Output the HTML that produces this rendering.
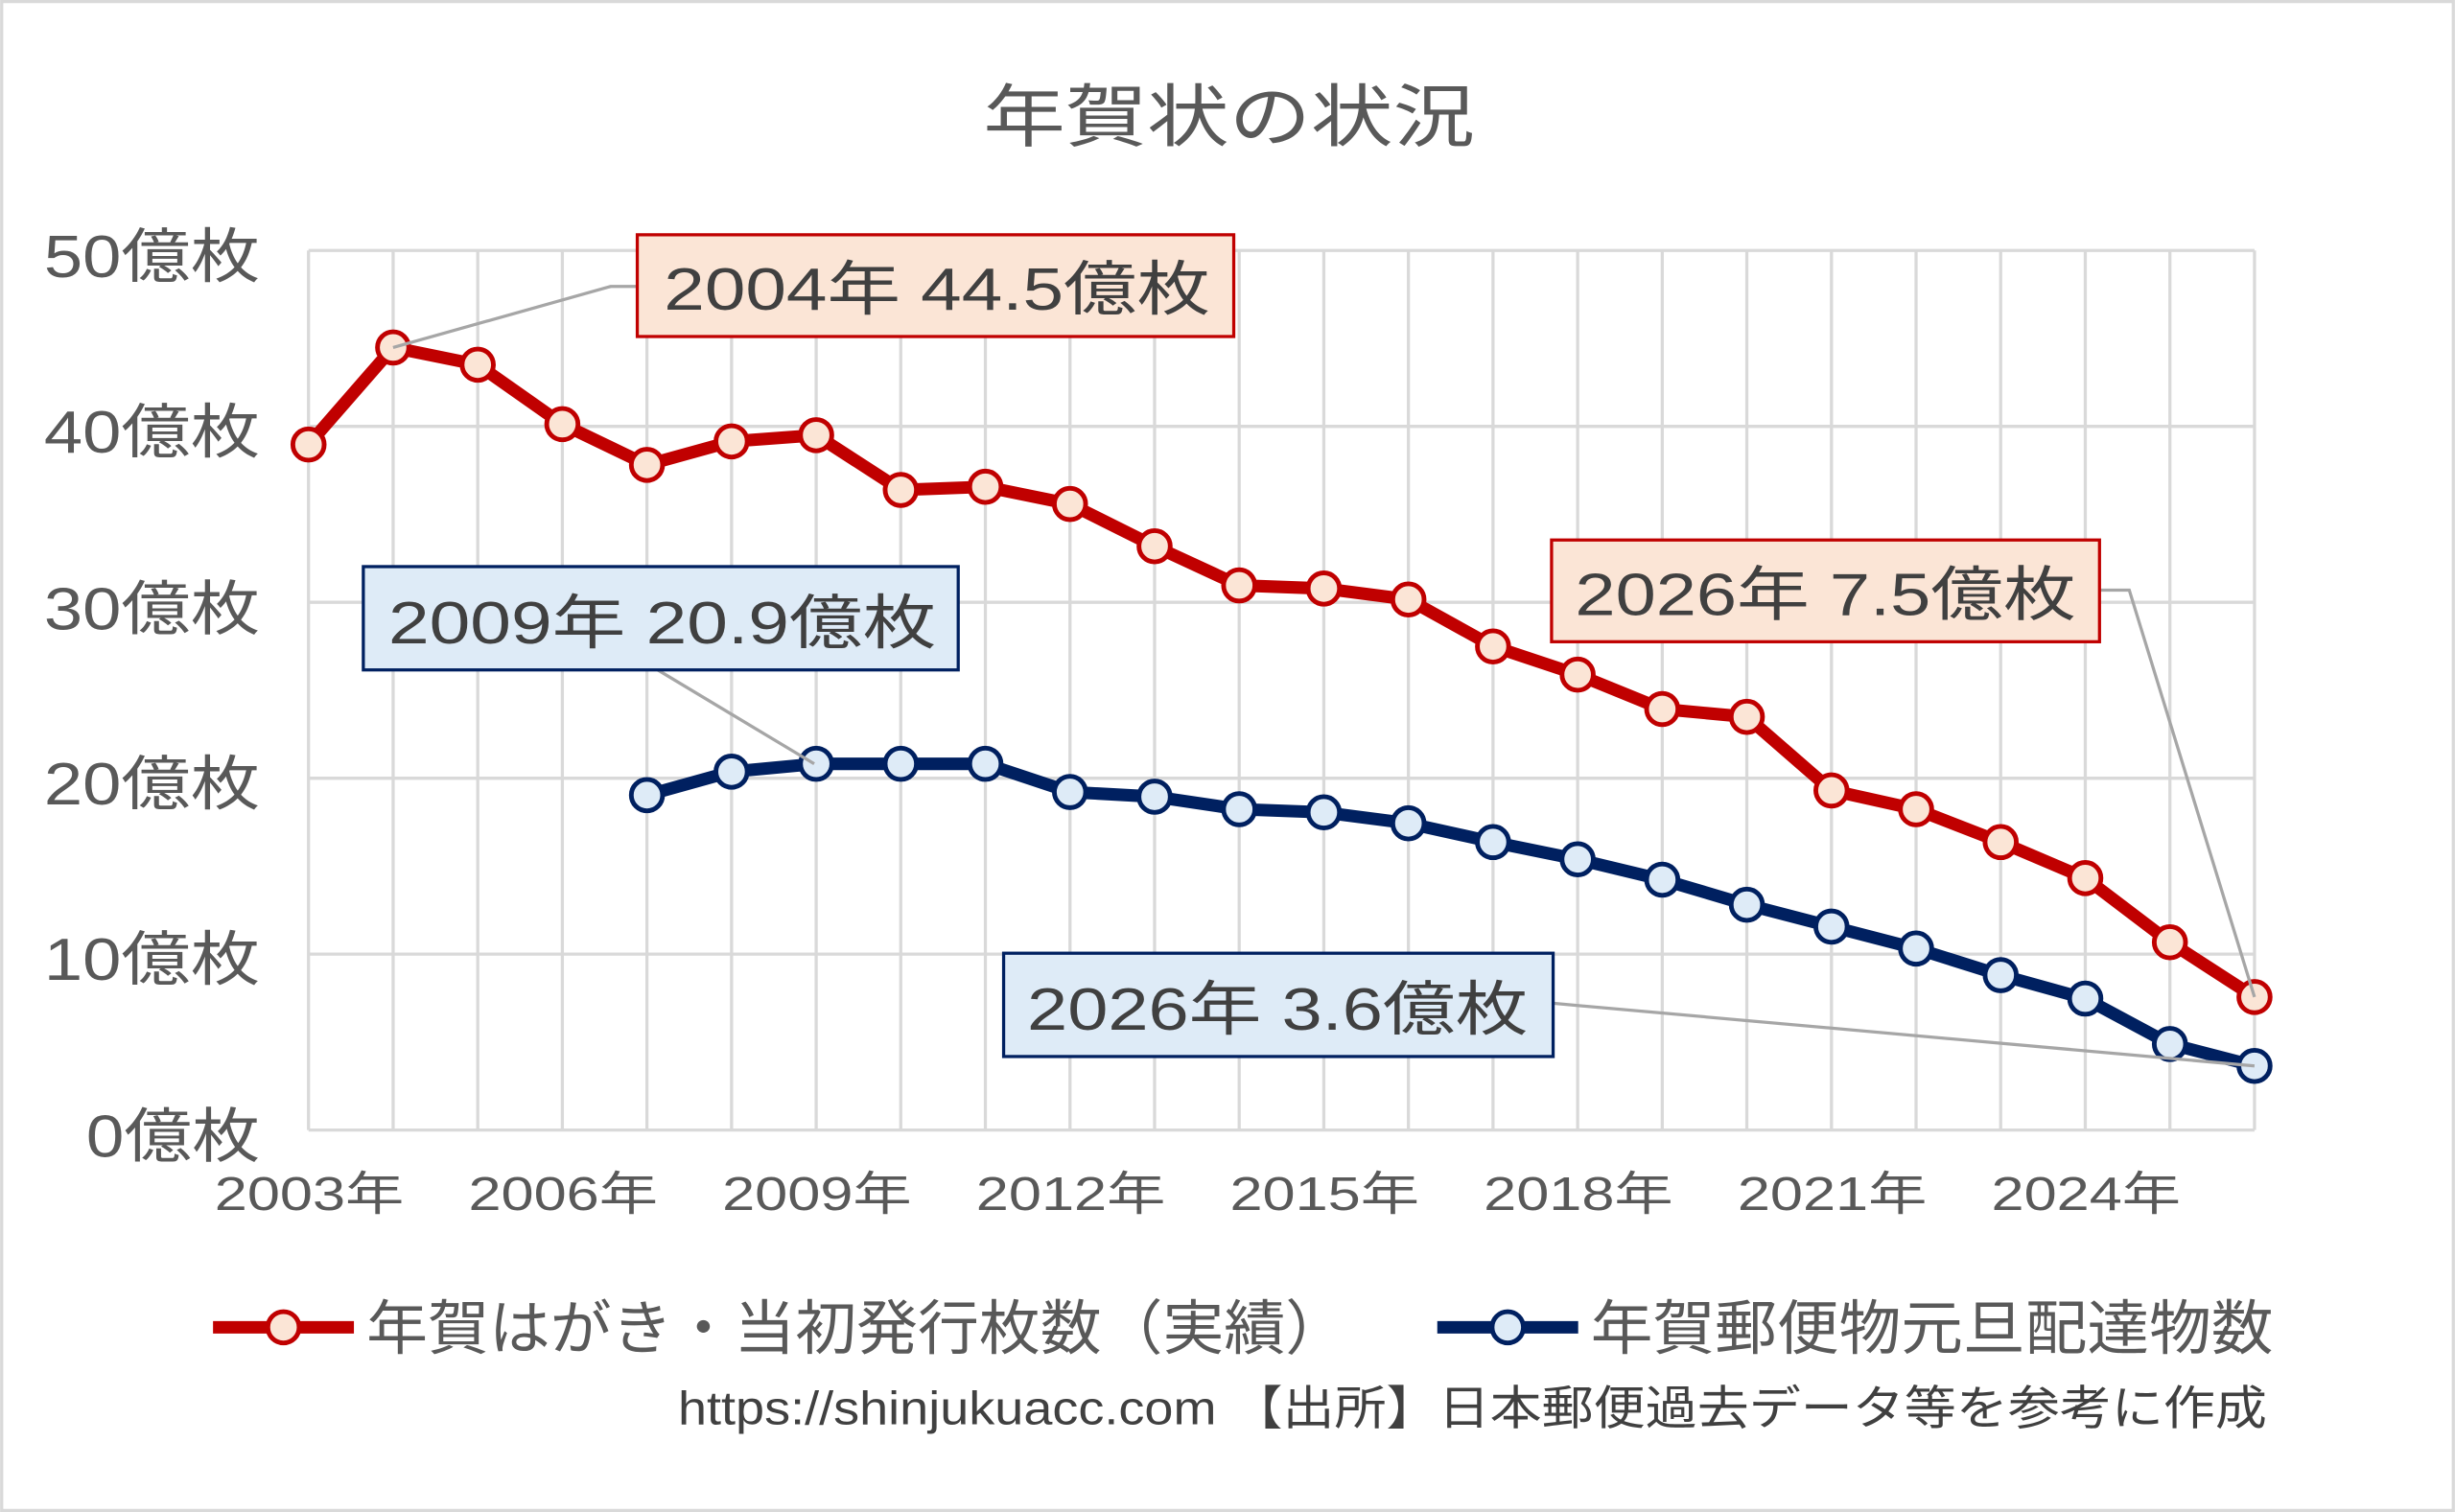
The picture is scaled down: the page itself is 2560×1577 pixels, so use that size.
<!DOCTYPE html>
<html><head><meta charset="utf-8"><style>
html,body{margin:0;padding:0;background:#fff;}
svg{display:block;}
text{font-family:"Liberation Sans","Noto Sans CJK JP",sans-serif;}
</style></head><body>
<svg width="2560" height="1577" viewBox="0 0 1568 966" xmlns="http://www.w3.org/2000/svg">
<rect x="1" y="1" width="1566" height="964" fill="#fff" stroke="#d9d9d9" stroke-width="2"/>
<text x="628" y="90" font-size="44" fill="#595959" textLength="314" lengthAdjust="spacingAndGlyphs">年賀状の状況</text>
<g id="grid" stroke="#d9d9d9" stroke-width="2"></g>
<g font-size="38" fill="#595959">
<text x="28" y="177" textLength="138" lengthAdjust="spacingAndGlyphs">50億枚</text>
<text x="28" y="289" textLength="138" lengthAdjust="spacingAndGlyphs">40億枚</text>
<text x="28" y="402" textLength="138" lengthAdjust="spacingAndGlyphs">30億枚</text>
<text x="28" y="514" textLength="138" lengthAdjust="spacingAndGlyphs">20億枚</text>
<text x="28" y="626" textLength="138" lengthAdjust="spacingAndGlyphs">10億枚</text>
<text x="55" y="739" textLength="111" lengthAdjust="spacingAndGlyphs">0億枚</text>
</g>
<g font-size="30" fill="#595959" id="xl"></g>
<g id="lines"></g>
<g stroke="#a6a6a6" stroke-width="2" fill="none">
<polyline points="251,222 390,183 408,183"/>
<polyline points="1341,377 1360,377 1440,637"/>
<polyline points="420,428 520,488"/>
<polyline points="992,641 1440,681"/>
</g>
<g font-size="38" fill="#404040">
<rect x="407" y="150" width="381" height="65" fill="#fbe5d6" stroke="#c00000" stroke-width="2"/>
<text x="424" y="198" textLength="349" lengthAdjust="spacingAndGlyphs">2004年 44.5億枚</text>
<rect x="991" y="345" width="350" height="65" fill="#fbe5d6" stroke="#c00000" stroke-width="2"/>
<text x="1006" y="393" textLength="320" lengthAdjust="spacingAndGlyphs">2026年 7.5億枚</text>
<rect x="232" y="362" width="380" height="66" fill="#deebf7" stroke="#002060" stroke-width="2"/>
<text x="248" y="411" textLength="350" lengthAdjust="spacingAndGlyphs">2009年 20.9億枚</text>
<rect x="641" y="609" width="351" height="66" fill="#deebf7" stroke="#002060" stroke-width="2"/>
<text x="656" y="658" textLength="320" lengthAdjust="spacingAndGlyphs">2026年 3.6億枚</text>
</g>
<line x1="136" y1="848" x2="226" y2="848" stroke="#c00000" stroke-width="8"/>
<circle cx="181" cy="848" r="10" fill="#fbe5d6" stroke="#c00000" stroke-width="3"/>
<text x="234" y="862" font-size="38" fill="#595959" textLength="626" lengthAdjust="spacingAndGlyphs">年賀はがき・当初発行枚数（実績）</text>
<line x1="918" y1="848" x2="1008" y2="848" stroke="#002060" stroke-width="8"/>
<circle cx="963" cy="848" r="10" fill="#deebf7" stroke="#002060" stroke-width="3"/>
<text x="1016" y="862" font-size="38" fill="#595959" textLength="436" lengthAdjust="spacingAndGlyphs">年賀郵便物元旦配達物数</text>
<text x="433" y="910" font-size="30" fill="#404040" textLength="1015" lengthAdjust="spacingAndGlyphs">https://shinjukuacc.com 【出所】日本郵便過去データ等を参考に作成</text>
<script>
(function(){
var ns="http://www.w3.org/2000/svg";
function el(p,t,a){var e=document.createElementNS(ns,t);for(var k in a)e.setAttribute(k,a[k]);p.appendChild(e);return e;}
var X=function(i){return 197+i*(1243/23);};
var g=document.getElementById('grid');
for(var i=0;i<=23;i++)el(g,'line',{x1:X(i),y1:160,x2:X(i),y2:722});
for(var v=0;v<=5;v++){var y=722-v*112.4;el(g,'line',{x1:197,y1:y,x2:1440,y2:y});}
var xl=document.getElementById('xl');
for(var i=0;i<=21;i+=3){var t=el(xl,'text',{x:X(i)-60,y:773,textLength:121,lengthAdjust:'spacingAndGlyphs'});t.textContent=(2003+i)+'年';}
var red=[284,222,233,271,297,282,278,313,311,322,349,374,376,383,413,431,453,458,505,517,538,561,602,637];
var blue=[508,493,488,488,488,506,509,517,519,526,538,549,562,578,592,606,623,638,667,681];
var L=document.getElementById('lines');
function draw(arr,off,c,f){var pts=arr.map(function(y,j){return X(j+off)+','+y;}).join(' ');
el(L,'polyline',{points:pts,fill:'none',stroke:c,'stroke-width':8,'stroke-linejoin':'round'});
arr.forEach(function(y,j){el(L,'circle',{cx:X(j+off),cy:y,r:10,fill:f,stroke:c,'stroke-width':3});});}
draw(red,0,'#c00000','#fbe5d6');
draw(blue,4,'#002060','#deebf7');
})();
</script>
</svg>
</body></html>
